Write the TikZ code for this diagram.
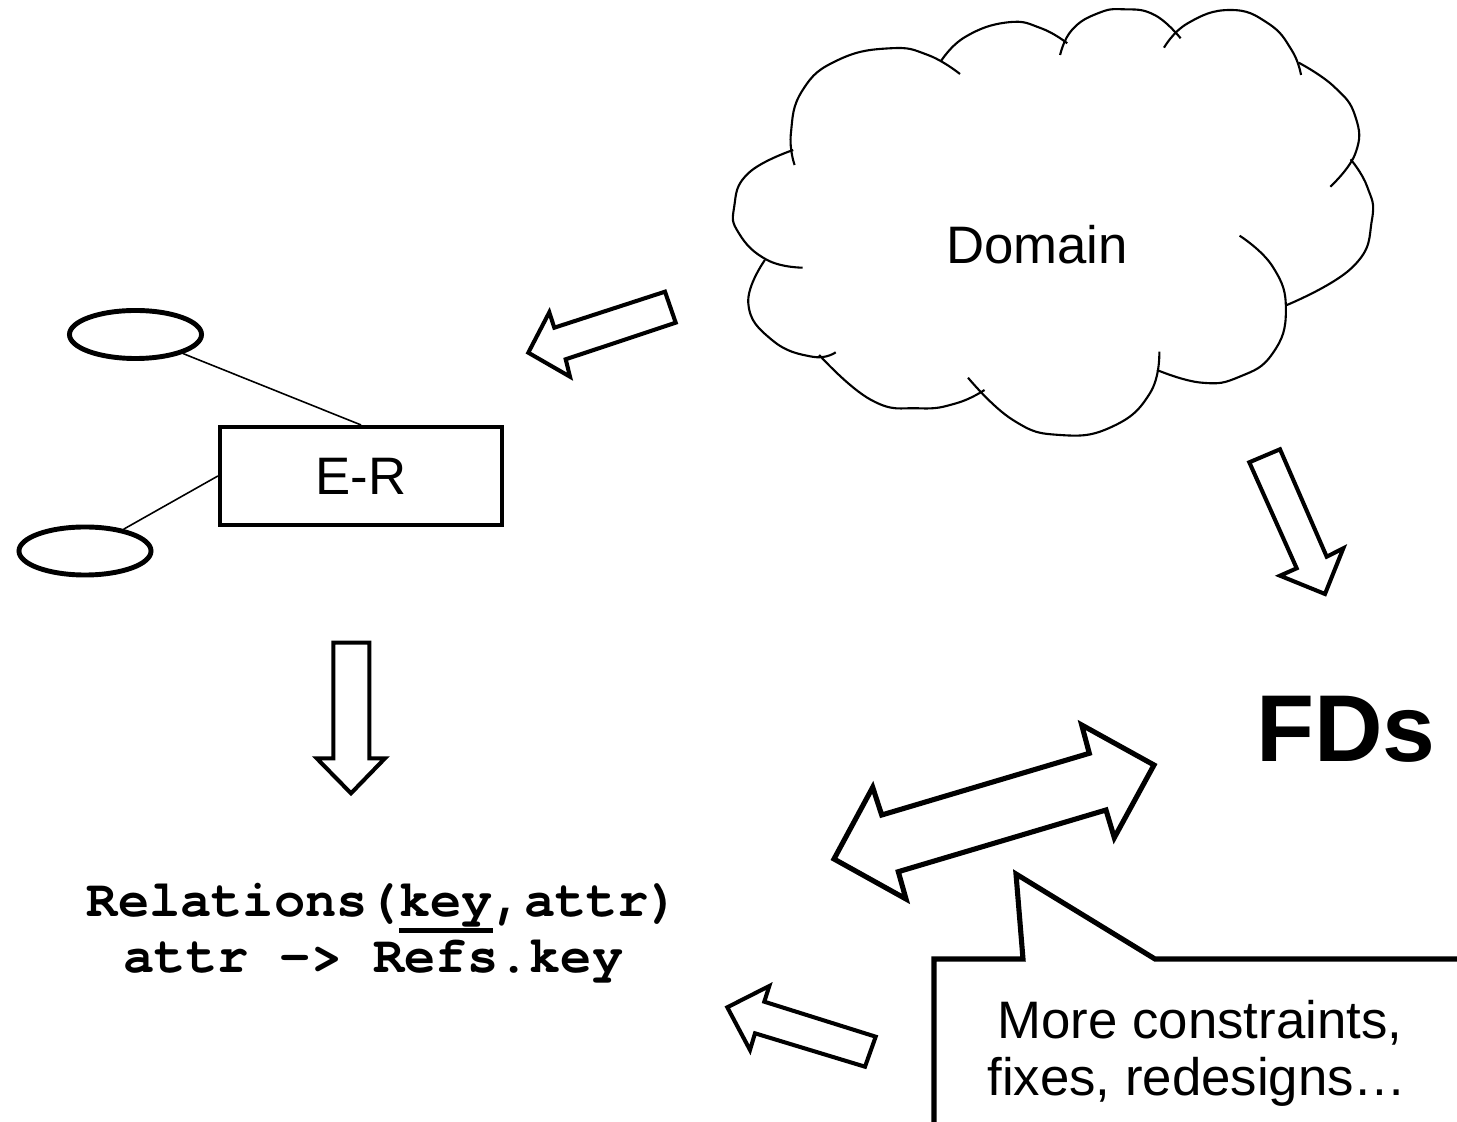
\documentclass[tikz,border=0pt]{standalone}
\usepackage{fontspec}
\setmainfont{Liberation Sans}
\newfontfamily\codefont{texgyrecursor}[Extension=.otf, UprightFont=*-regular, BoldFont=*-bold]
\usetikzlibrary{shapes.geometric}
\newcommand{\keyline}[1]{\setbox0\hbox{#1}\rlap{\rule[-4.6pt]{\wd0}{1.4pt}}#1}
\tikzset{
	cloudline/.style={line width=0.6pt},
	attr/.style={draw, ellipse, line width=1.4pt, minimum width=1.32cm, minimum height=0.48cm, inner sep=0pt},
	erbox/.style={draw, rectangle, line width=1.15pt, minimum width=2.82cm, minimum height=0.98cm, inner sep=0pt, font=\fontsize{15}{18}\selectfont},
	link/.style={line width=0.45pt},
	blockarrow/.style={draw, line width=1.15pt},
	bigarrow/.style={draw, line width=1.45pt},
	plaintext/.style={inner sep=0pt, font=\fontsize{15}{18}\selectfont},
	code/.style={inner sep=0pt, font=\codefont\bfseries\fontsize{14.8}{17}\selectfont}
}

\begin{document}
\begin{tikzpicture}[x=0.01cm, y=-0.01cm]
	\path[use as bounding box] (0,0) rectangle (1457,1122);

	\draw[cloudline] plot[smooth, tension=0.8] coordinates {(794.6,165) (790.9,133.3) (802.7,90) (838.1,60) (890.1,48.3) (927.9,55) (960,74)};
	\draw[cloudline] plot[smooth, tension=0.8] coordinates {(941.1,61) (965.6,36.7) (1008.2,22.3) (1041.2,28.3) (1067.2,43.3)};
	\draw[cloudline] plot[smooth, tension=0.8] coordinates {(1060.1,55) (1071.9,30) (1097.9,13.3) (1123.9,9.3) (1154.6,15) (1180.6,38.3)};
	\draw[cloudline] plot[smooth, tension=0.8] coordinates {(1164,47.7) (1187.7,23.3) (1230.2,10) (1268,23.3) (1291.6,50) (1301,75)};
	\draw[cloudline] plot[smooth, tension=0.8] coordinates {(1298.7,62.7) (1334.1,86.7) (1355.4,116.7) (1355.4,153.3) (1330.3,186.7)};
	\draw[cloudline] plot[smooth, tension=0.8] coordinates {(1350.6,159.3) (1367.2,186.7) (1371.9,220) (1353,266.7) (1286.9,305)};
	\draw[cloudline] plot[smooth, tension=0.8] coordinates {(1239.6,235.7) (1272.7,266.7) (1285.9,310) (1272.7,353.3) (1239.6,376.7) (1201.8,382.7) (1157,370)};
	\draw[cloudline] plot[smooth, tension=0.8] coordinates {(1159.3,351.7) (1149.9,393.3) (1112.1,426.7) (1060.1,435) (1012.9,420) (968,377.7)};
	\draw[cloudline] plot[smooth, tension=0.8] coordinates {(984.5,390) (956.2,403.3) (918.4,408.3) (871.2,400) (819.2,355)};
	\draw[cloudline] plot[smooth, tension=0.8] coordinates {(835.7,352.3) (812.1,356.7) (772,340) (748.3,303.3) (764.9,260)};
	\draw[cloudline] plot[smooth, tension=0.8] coordinates {(802.7,267.7) (767.2,260) (738.9,233.3) (734.2,206.7) (748.3,173.3) (793.2,150)};
	\node[plaintext, anchor=base] (domain) at (1037,264) {Domain};

	\node[erbox] (er) at (361,476) {E-R};
	\node[attr] (a1) at (135.5,334.5) {};
	\node[attr] (a2) at (85,551) {};
	\draw[link] (a1) -- (er.north);
	\draw[link] (a2) -- (er.west);

	\draw[blockarrow] (528.3,352.7) -- (549.3,312.3) -- (554.3,327.7) -- (665,291.7) -- (675.7,322.7) -- (565.7,359.3) -- (570,376.7) -- cycle;
	\draw[blockarrow] (333.3,642.7) -- (369.3,642.7) -- (369.3,758.3) -- (385,758.3) -- (351,793.3) -- (316.7,758.3) -- (333.3,758.3) -- cycle;
	\draw[blockarrow] (1249.3,462.3) -- (1280,449.3) -- (1326.7,556.7) -- (1343.3,548.3) -- (1325,594) -- (1280,575.7) -- (1296.7,568.3) -- cycle;
	\draw[blockarrow] (727.3,1007.3) -- (769.3,986) -- (764.3,1001.7) -- (875.7,1036.7) -- (865,1066.7) -- (755,1033.3) -- (750,1050) -- cycle;
	\draw[bigarrow] (834,859) -- (872.7,787.3) -- (881.7,815) -- (1089.3,753.3) -- (1081.7,725) -- (1154,765) -- (1114.3,837.7) -- (1106,810) -- (898.3,871.7) -- (906,899) -- cycle;

	\node[anchor=base, inner sep=0pt, font=\bfseries\fontsize{27}{32}\selectfont] (fds) at (1346,762) {FDs};

	\node[code, anchor=base] (rel) at (383.5,917) {Relations(\keyline{key},attr)};
	\node[code, anchor=base] (fk) at (373.5,972) {attr -> Refs.key};

	\draw[bigarrow] (1457,959) -- (1155,959) -- (1016,874) -- (1023,959) -- (934,959) -- (934,1122);
	\node[plaintext, anchor=base] (note1) at (1200,1038) {More constraints,};
	\node[plaintext, anchor=base] (note2) at (1197,1095) {fixes, redesigns…};
\end{tikzpicture}
\end{document}
